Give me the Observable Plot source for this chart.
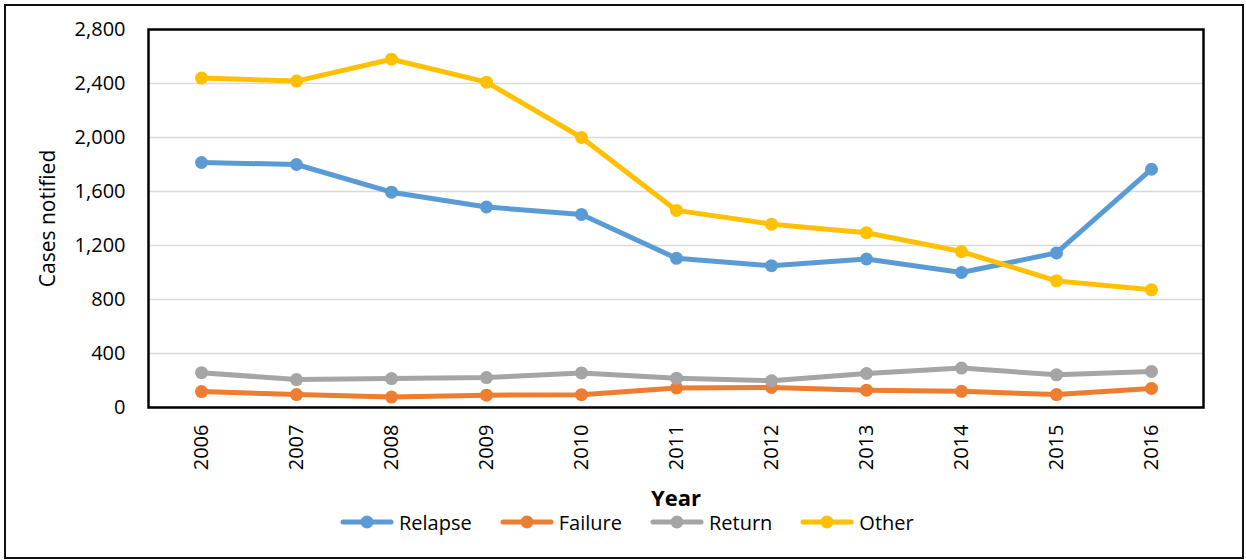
<!DOCTYPE html>
<html>
<head>
<meta charset="utf-8">
<script src="https://cdn.jsdelivr.net/npm/d3@7"></script>
<script src="https://cdn.jsdelivr.net/npm/@observablehq/plot@0.6"></script>
<style>
  body { margin: 0; background: #fff; font-family: "Open Sans", sans-serif; }
  #wrap { position: relative; width: 1246px; height: 560px; overflow: hidden; }
  #border { position: absolute; left: 4px; top: 4px; width: 1240px; height: 555px; border: 2px solid #111; box-sizing: border-box; pointer-events: none; }
  #chart { position: absolute; left: 0; top: 0; }
  #legend { position: absolute; left: 340px; top: 508px; height: 28px; display: flex; align-items: center; font-size: 20px; color: #000; }
  .item { display: flex; align-items: center; margin-right: 28px; }
  .item svg { margin-right: 5px; }
</style>
</head>
<body>
<div id="wrap">
  <div id="chart"></div>
  <div id="legend"></div>
  <div id="border"></div>
</div>
<script>
// TB retreatment cases notified per year, by case type
const years = [2006, 2007, 2008, 2009, 2010, 2011, 2012, 2013, 2014, 2015, 2016];
const relapse = [1815, 1800, 1595, 1485, 1430, 1105, 1050, 1100, 1000, 1145, 1765];
const failure = [118, 96, 77, 91, 95, 145, 148, 128, 120, 96, 141];
const returned = [258, 207, 214, 222, 256, 217, 198, 252, 292, 242, 267];
const other = [2440, 2418, 2580, 2410, 2000, 1460, 1358, 1295, 1155, 938, 872];

const seriesNames = ["Relapse", "Failure", "Return", "Other"];
const seriesColors = ["#5b9bd5", "#ed7d31", "#a5a5a5", "#ffc000"];
const seriesValues = [relapse, failure, returned, other];
const yTicks = [0, 400, 800, 1200, 1600, 2000, 2400, 2800];

const yearLabels = years.map(String);
const series = seriesNames.map((name, k) => ({
  name,
  color: seriesColors[k],
  rows: years.map((y, i) => ({year: String(y), value: seriesValues[k][i], series: name}))
}));

// one line + markers per series, drawn in legend order
const seriesMarks = series.flatMap(s => [
  Plot.lineY(s.rows, {x: "year", y: "value", stroke: s.color, strokeWidth: 5, strokeLinecap: "round", strokeLinejoin: "round"}),
  Plot.dot(s.rows, {x: "year", y: "value", fill: s.color, r: 6.5})
]);

const chart = Plot.plot({
  width: 1246,
  height: 510,
  marginTop: 29,
  marginLeft: 148,
  marginRight: 43,
  marginBottom: 103,
  style: {fontFamily: '"Open Sans", sans-serif', fontSize: "20px", color: "#000", background: "transparent", overflow: "visible"},
  x: {type: "point", domain: yearLabels, padding: 0.5},
  y: {domain: [0, 2800]},
  marks: [
    Plot.gridY(yTicks, {stroke: "#d9d9d9", strokeOpacity: 1, strokeWidth: 1.5}),
    Plot.axisY(yTicks, {tickSize: 0, tickPadding: 23, tickFormat: d3.format(","), label: null}),
    Plot.axisX({tickSize: 0, tickPadding: 17, tickRotate: -90, label: null}),
    Plot.text(["Cases notified"], {frameAnchor: "left", rotate: -90, textAnchor: "middle", dx: -100, fontSize: 21}),
    Plot.text(["Year"], {frameAnchor: "bottom", dy: 98, fontSize: 22, fontWeight: "bold"}),
    ...seriesMarks,
    Plot.frame({stroke: "#000", strokeWidth: 2.5})
  ]
});
document.getElementById("chart").appendChild(chart);

// legend: line with centred marker, then the series name
const legend = document.getElementById("legend");
series.forEach(s => {
  const item = document.createElement("div");
  item.className = "item";
  item.innerHTML =
    `<svg width="54" height="16" viewBox="0 0 54 16">` +
    `<line x1="3" y1="8" x2="51" y2="8" stroke="${s.color}" stroke-width="5" stroke-linecap="round"/>` +
    `<circle cx="27" cy="8" r="6.5" fill="${s.color}"/></svg>` +
    `<span>${s.name}</span>`;
  legend.appendChild(item);
});
</script>
</body>
</html>
